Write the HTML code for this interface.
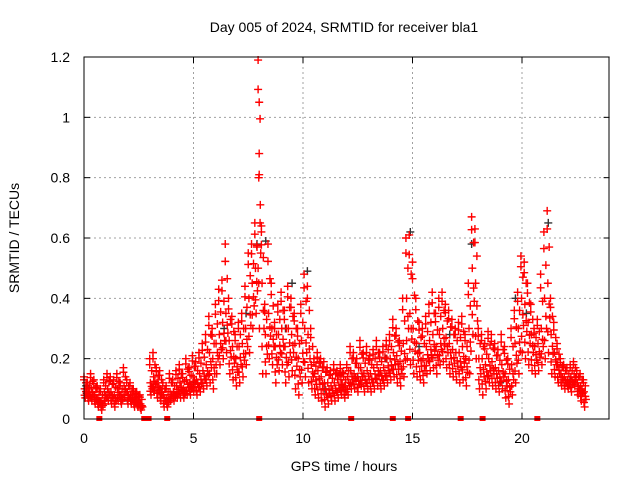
<!DOCTYPE html>
<html><head><meta charset="utf-8"><style>
html,body{margin:0;padding:0;background:#fff}
svg{display:block;font-family:"Liberation Sans",sans-serif}
</style></head><body>
<svg id="chart" width="640" height="480">
<text x="344" y="32" text-anchor="middle" font-size="14">Day 005 of 2024, SRMTID for receiver bla1</text>
<text x="344" y="471" text-anchor="middle" font-size="14">GPS time / hours</text>
<text transform="translate(19,238) rotate(-90)" text-anchor="middle" font-size="14">SRMTID / TECUs</text>
<g id="grid"></g><g id="ticks"></g><g id="marks"></g>
<rect x="84" y="57" width="525" height="362" fill="none" stroke="#000" stroke-width="1"/>
</svg>
<script>
const xTicks=[0,5,10,15,20];
const yTicks=[0,0.2,0.4,0.6,0.8,1,1.2];
const yTickLabels=["0","0.2","0.4","0.6","0.8","1","1.2"];
const times=[0,0.15,0.3,0.45,0.6,0.75,0.9,1.05,1.2,1.35,1.5,1.65,1.8,1.95,2.1,2.25,2.4,2.55,3.0,3.15,3.3,3.45,3.6,3.75,3.9,4.05,4.2,4.35,4.5,4.65,4.8,4.95,5.1,5.25,5.4,5.55,5.7,5.85,6.0,6.15,6.3,6.45,6.6,6.75,6.9,7.05,7.2,7.35,7.5,7.65,7.8,7.95,8.1,8.25,8.4,8.55,8.7,8.85,9.0,9.15,9.3,9.45,9.6,9.75,9.9,10.05,10.2,10.35,10.5,10.65,10.8,10.95,11.1,11.25,11.4,11.55,11.7,11.85,12.0,12.15,12.3,12.45,12.6,12.75,12.9,13.05,13.2,13.35,13.5,13.65,13.8,13.95,14.1,14.25,14.4,14.55,14.7,14.85,15.0,15.15,15.3,15.45,15.6,15.75,15.9,16.05,16.2,16.35,16.5,16.65,16.8,16.95,17.1,17.25,17.4,17.55,17.7,17.85,18.0,18.15,18.3,18.45,18.6,18.75,18.9,19.05,19.2,19.35,19.5,19.65,19.8,19.95,20.1,20.25,20.4,20.55,20.7,20.85,21.0,21.15,21.3,21.45,21.6,21.75,21.9,22.05,22.2,22.35,22.5,22.65,22.8];
const upper=[.14,.12,.15,.13,.11,.10,.13,.15,.14,.13,.15,.12,.17,.13,.12,.10,.09,.08,.20,.22,.17,.16,.12,.11,.15,.13,.16,.18,.15,.20,.17,.21,.19,.22,.25,.28,.34,.30,.38,.43,.46,.58,.40,.34,.28,.32,.35,.44,.55,.58,.65,1.19,.62,.38,.58,.45,.32,.38,.42,.36,.44,.40,.35,.30,.38,.48,.44,.30,.20,.22,.20,.19,.17,.16,.18,.16,.18,.15,.18,.24,.22,.20,.26,.22,.24,.21,.23,.26,.22,.24,.26,.28,.33,.30,.26,.40,.60,.61,.52,.40,.32,.30,.34,.38,.42,.35,.40,.42,.38,.36,.33,.30,.32,.34,.28,.45,.67,.63,.30,.28,.25,.29,.28,.25,.23,.28,.24,.20,.30,.36,.42,.54,.52,.45,.38,.30,.33,.48,.62,.69,.40,.32,.25,.20,.18,.17,.18,.19,.16,.15,.13];
const middle=[.10,.09,.10,.08,.07,.06,.09,.10,.09,.08,.10,.08,.11,.09,.08,.07,.06,.05,.12,.14,.12,.10,.08,.07,.09,.09,.11,.12,.10,.13,.12,.14,.13,.15,.16,.18,.22,.20,.25,.28,.32,.35,.26,.24,.20,.24,.25,.30,.40,.45,.50,.80,.45,.28,.35,.30,.24,.28,.30,.24,.30,.28,.25,.20,.26,.30,.28,.18,.15,.16,.14,.12,.12,.11,.12,.13,.13,.11,.14,.16,.15,.14,.17,.15,.16,.15,.17,.18,.16,.17,.20,.20,.22,.21,.19,.25,.40,.35,.30,.25,.22,.20,.24,.26,.28,.24,.28,.30,.27,.25,.23,.22,.22,.24,.20,.30,.50,.45,.20,.20,.18,.20,.19,.17,.16,.18,.15,.13,.18,.25,.30,.40,.38,.32,.28,.24,.25,.30,.40,.45,.28,.22,.18,.15,.14,.13,.14,.15,.12,.11,.09];
const lower=[.07,.06,.06,.05,.04,.03,.05,.06,.05,.04,.06,.05,.07,.05,.05,.04,.04,.03,.08,.09,.07,.06,.04,.04,.06,.06,.07,.07,.07,.08,.08,.09,.08,.09,.10,.11,.12,.10,.15,.18,.20,.22,.15,.13,.11,.12,.14,.18,.22,.30,.35,.30,.15,.15,.20,.18,.12,.16,.18,.12,.14,.16,.10,.08,.12,.14,.12,.10,.08,.07,.06,.04,.05,.06,.06,.07,.08,.07,.08,.10,.10,.09,.11,.09,.10,.09,.10,.11,.10,.11,.12,.13,.14,.12,.11,.14,.20,.18,.15,.14,.13,.12,.15,.16,.17,.15,.18,.19,.17,.15,.14,.13,.12,.13,.11,.15,.28,.20,.10,.08,.10,.12,.11,.10,.09,.10,.07,.05,.08,.12,.15,.22,.20,.18,.16,.15,.16,.18,.20,.22,.15,.14,.12,.11,.10,.10,.09,.11,.08,.06,.04];
const peakTimes=[8.0,8.0,8.0,8.05,8.1,7.9,7.95];
const peakValues=[1.05,0.88,0.81,0.71,0.64,0.57,0.50];
const zeroTimes=[0.7,2.75,2.95,3.8,8.0,12.2,14.1,14.8,17.2,18.2,20.7];
const darkTimes=[0.1,1.0,2.0,3.5,5.0,6.4,7.4,7.9,8.3,9.2,9.5,10.2,11.0,12.5,13.8,14.9,15.3,16.7,17.7,19.0,19.7,20.2,21.2,22.2];
const darkValues=[.11,.08,.06,.07,.12,.30,.35,.58,.59,.30,.45,.49,.10,.14,.20,.62,.24,.28,.58,.12,.40,.35,.65,.13];

const X0=84,X1=609.6,Y0=419,Y1=57;
const xs=t=>X0+(X1-X0)*t/24;
const ys=v=>Y0-(Y0-Y1)*v/1.2;
const NS="http://www.w3.org/2000/svg";
const grid=document.getElementById('grid'),ticks=document.getElementById('ticks'),marks=document.getElementById('marks');
function mk(tag,attrs,parent){const e=document.createElementNS(NS,tag);for(const k in attrs)e.setAttribute(k,attrs[k]);parent.appendChild(e);return e;}
xTicks.forEach(t=>{
  const x=xs(t);
  if(t>0){const g=mk('line',{x1:x,x2:x,y1:Y1,y2:Y0,stroke:'#a0a0a0','stroke-dasharray':'2,3'},grid);
  
  }
  mk('line',{x1:x,x2:x,y1:Y0,y2:Y0-6,stroke:'#000'},ticks);
  mk('line',{x1:x,x2:x,y1:Y1,y2:Y1+6,stroke:'#000'},ticks);
  const l=mk('text',{x:x,y:443,'text-anchor':'middle','font-size':'14'},ticks);l.textContent=String(t);
  
  
});
yTicks.forEach((v,i)=>{
  const y=ys(v);
  if(v>0&&v<1.2){const g=mk('line',{x1:X0,x2:X1,y1:y,y2:y,stroke:'#a0a0a0','stroke-dasharray':'2,3'},grid);
  
  }
  mk('line',{x1:X0,x2:X0+6,y1:y,y2:y,stroke:'#000'},ticks);
  mk('line',{x1:X1,x2:X1-6,y1:y,y2:y,stroke:'#000'},ticks);
  const l=mk('text',{x:70,y:y+5,'text-anchor':'end','font-size':'14'},ticks);l.textContent=yTickLabels[i];
  
  
});
function plus(t,v,color,name){
  const x=xs(t),y=ys(v);
  const p=mk('path',{d:`M${x-4},${y}h8M${x},${y-4}v8`,stroke:color,'stroke-width':1.4,fill:'none'},marks);
  
  
}
darkTimes.forEach((t,i)=>plus(t,darkValues[i],'#333','dark-point'));
times.forEach((t,i)=>{
  const u=upper[i],m=middle[i],l=lower[i];
  const offs=[0,0.03,0.06,0.09,0.12];
  const vals=[u,(u+m)/2,m,(m+l)/2,l,(u*0.75+m*0.25),(m*0.7+l*0.3),(m*0.3+l*0.7)];
  vals.forEach((v,k)=>plus(t+offs[(k*3)%5],v,'#f00','srmtid-point'));
});
peakTimes.forEach((t,i)=>plus(t,peakValues[i],'#f00','srmtid-peak-point'));
zeroTimes.forEach(t=>{
  const r=mk('rect',{x:xs(t)-3,y:Y0-3,width:6,height:5,fill:'#f00'},marks);
  
  
});
</script>
</body></html>
